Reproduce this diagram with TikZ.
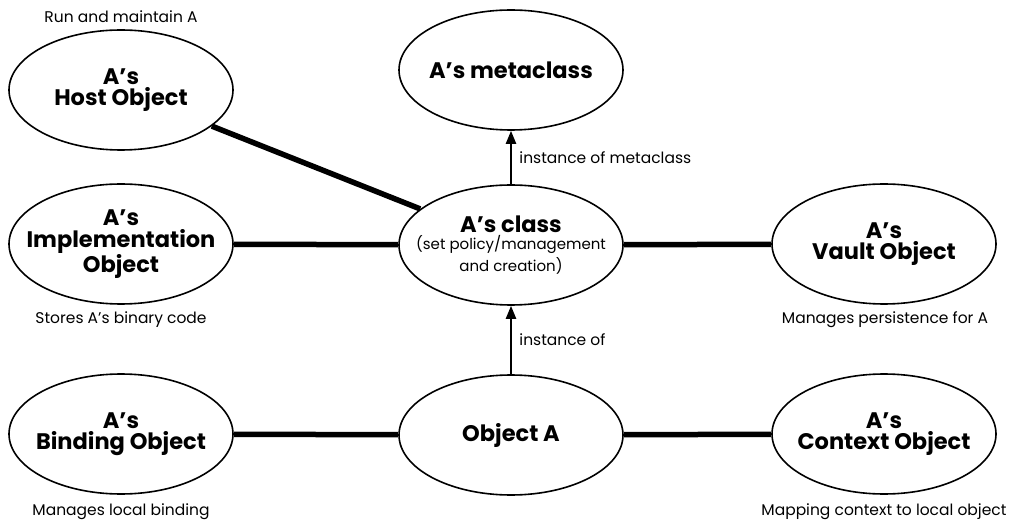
\documentclass[tikz,border=0pt]{standalone}
\usepackage{fontspec}
\setmainfont{Poppins}
\usetikzlibrary{shapes.geometric,arrows.meta}
\newcommand{\smtxt}{\fontsize{15}{17}\selectfont\mdseries}
\begin{document}
\begin{tikzpicture}[x=1pt,y=-1pt,
  obj/.style={ellipse,draw,line width=1.6pt,inner sep=-40pt,minimum width=224pt,minimum height=120pt,align=center,font=\fontsize{22.5}{21.5}\selectfont\bfseries},
  link/.style={line width=5.5pt},
  inst/.style={line width=2.2pt,-{Triangle[width=10pt,length=13pt]}},
  note/.style={font=\fontsize{15.5}{17}\selectfont}]
\useasboundingbox (0,0) rectangle (1012,521);
\node[obj] (host) at (121,90) {A’s\\Host Object};
\node[obj] (meta) at (511,70) {A’s metaclass};
\node[obj] (cls) at (511,245) {A’s class\\[-4pt]\smtxt (set policy/management\\\smtxt and creation)};
\node[obj] (impl) at (121,244) {A’s\\Implementation\\Object};
\node[obj] (vault) at (884,244) {A’s\\Vault Object};
\node[obj] (bind) at (121,434) {A’s\\Binding Object};
\node[obj] (objA) at (511,435) {Object A};
\node[obj] (ctx) at (884,434) {A’s\\Context Object};
\draw[link] (host) -- (cls);
\draw[link] (impl) -- (cls);
\draw[link] (cls) -- (vault);
\draw[link] (bind) -- (objA);
\draw[link] (objA) -- (ctx);
\draw[inst] (cls) -- (meta) node[pos=0.5,right=4pt,note] (l1) {instance of metaclass};
\draw[inst] (objA) -- (cls) node[pos=0.5,right=4pt,note] (l2) {instance of};
\node[note] (n1) at (121,17) {Run and maintain A};
\node[note] (n2) at (121,320) {Stores A’s binary code};
\node[note] (n3) at (885,320) {Manages persistence for A};
\node[note] (n4) at (121,512) {Manages local binding};
\node[note,anchor=east] (n5) at (1010,512) {Mapping context to local object};
\end{tikzpicture}
\end{document}
